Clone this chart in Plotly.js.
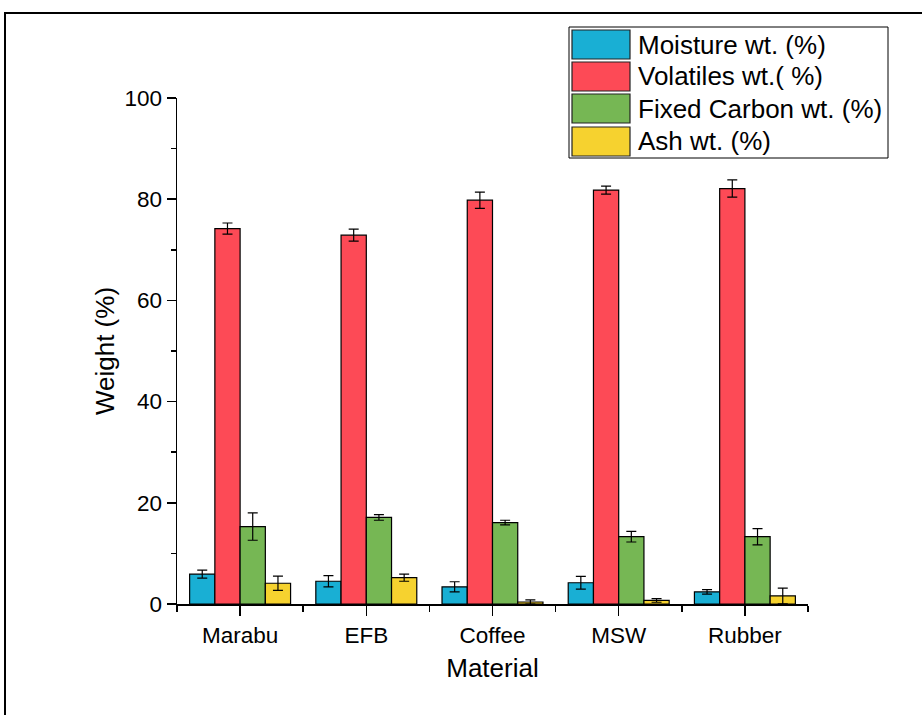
<!DOCTYPE html>
<html>
<head>
<meta charset="utf-8">
<script src="https://cdn.plot.ly/plotly-3.0.1.min.js"></script>
<style>
  html, body { margin: 0; padding: 0; background: #ffffff; }
  #chart { width: 922px; height: 715px; }
</style>
</head>
<body>
<div id="chart"></div>
<script>
// ---- data ----
const categories = ["Marabu", "EFB", "Coffee", "MSW", "Rubber"];
const seriesNames = ["Moisture wt. (%)", "Volatiles wt.( %)", "Fixed Carbon wt. (%)", "Ash wt. (%)"];
const moisture = [5.9, 4.5, 3.4, 4.2, 2.4];
const moistureErr = [0.8, 1.1, 1.0, 1.25, 0.45];
const volatiles = [74.2, 72.9, 79.8, 81.8, 82.1];
const volatilesErr = [1.1, 1.2, 1.6, 0.8, 1.7];
const fixedCarbon = [15.3, 17.1, 16.1, 13.3, 13.3];
const fixedCarbonErr = [2.7, 0.55, 0.45, 1.05, 1.6];
const ash = [4.1, 5.2, 0.4, 0.7, 1.6];
const ashErr = [1.4, 0.7, 0.4, 0.35, 1.55];
const yTicks = [0, 20, 40, 60, 80, 100];

// ---- styles ----
const colors = ["#19AFD4", "#FD4A56", "#76B754", "#F6D22F"];
const FONT = "Liberation Sans, Arial, sans-serif";
const W = 922, H = 715;
const M = { l: 177, r: 114, t: 98, b: 111 };
const plotW = W - M.l - M.r, plotH = H - M.t - M.b;
const px = x => (x - M.l) / plotW;
const py = y => (H - M.b - y) / plotH;

const xIdx = categories.map((c, i) => i);
const values = [moisture, volatiles, fixedCarbon, ash];
const errs = [moistureErr, volatilesErr, fixedCarbonErr, ashErr];

const traces = values.map((v, k) => ({
  type: "bar",
  name: seriesNames[k],
  x: xIdx,
  y: v,
  marker: { color: colors[k], line: { color: "#000000", width: 1.2 } },
  error_y: { type: "data", array: errs[k], visible: true, color: "#000000", thickness: 1.2, width: 5 },
  showlegend: false,
  hoverinfo: "x+y+name"
}));

// custom legend (swatches + labels) and outer frame
const shapes = [
  { type: "rect", xref: "paper", yref: "paper", x0: px(5), x1: px(940), y0: py(13), y1: py(740),
    line: { color: "#000000", width: 2 }, fillcolor: "rgba(0,0,0,0)" },
  { type: "rect", xref: "paper", yref: "paper", x0: px(569), x1: px(888), y0: py(27), y1: py(158),
    line: { color: "#000000", width: 1 }, fillcolor: "#ffffff" }
];
const annotations = [];
const rowTops = [30, 62, 94, 127];
seriesNames.forEach((n, k) => {
  const top = rowTops[k], bot = top + 29;
  shapes.push({ type: "rect", xref: "paper", yref: "paper", x0: px(572), x1: px(630), y0: py(top), y1: py(bot),
    line: { color: "#222222", width: 1.2 }, fillcolor: colors[k] });
  annotations.push({ xref: "paper", yref: "paper", x: px(636), y: py((top + bot) / 2), xanchor: "left", yanchor: "middle",
    text: n, showarrow: false, font: { family: FONT, size: 26, color: "#000000" } });
});

const layout = {
  width: W, height: H,
  margin: M,
  paper_bgcolor: "#ffffff", plot_bgcolor: "#ffffff",
  barmode: "group", bargap: 0.2, bargroupgap: 0,
  showlegend: false,
  font: { family: FONT, color: "#000000" },
  xaxis: {
    range: [-0.5, 4.5], tickmode: "array", tickvals: xIdx, ticktext: categories,
    ticks: "outside", ticklen: 10, tickwidth: 1.5, tickcolor: "#000000",
    minor: { tickmode: "linear", tick0: 0.5, dtick: 1, ticks: "outside", ticklen: 6, tickwidth: 1.5, tickcolor: "#000000" },
    showline: true, linecolor: "#000000", linewidth: 1.5, showgrid: false, zeroline: false,
    tickfont: { family: FONT, size: 22.5, color: "#000000" },
    title: { text: "Material", font: { family: FONT, size: 26, color: "#000000" }, standoff: 12 },
    fixedrange: true
  },
  yaxis: {
    range: [0, 100], tickmode: "array", tickvals: yTicks,
    ticks: "outside", ticklen: 9, tickwidth: 1.5, tickcolor: "#000000",
    minor: { tickmode: "linear", tick0: 0, dtick: 10, ticks: "outside", ticklen: 5, tickwidth: 1.5, tickcolor: "#000000" },
    showline: true, linecolor: "#000000", linewidth: 1.5, showgrid: false, zeroline: false,
    tickfont: { family: FONT, size: 22.5, color: "#000000" },
    title: { text: "Weight (%)", font: { family: FONT, size: 26, color: "#000000" }, standoff: 2 },
    fixedrange: true
  },
  shapes: shapes,
  annotations: annotations
};

Plotly.newPlot("chart", traces, layout, { displayModeBar: false, staticPlot: true });
</script>
</body>
</html>
